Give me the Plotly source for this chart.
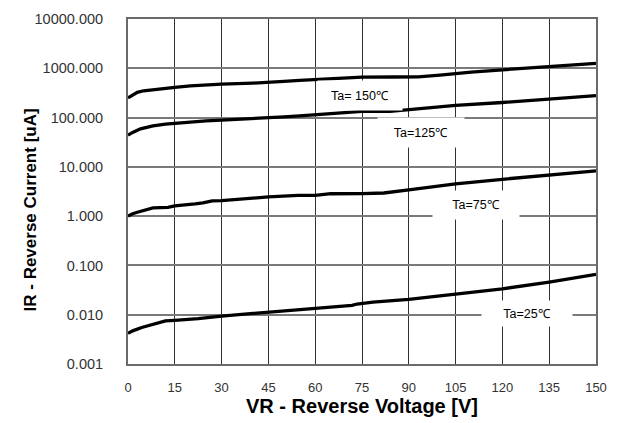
import math
import plotly.graph_objects as go

# ---- data ----
v150 = [0, 1.5, 3, 5, 8, 12, 15, 20, 25, 30, 40, 45, 50, 55, 60, 65, 70, 75, 85, 93, 100, 105, 110, 120, 135, 150]
i150 = [250, 290, 325, 350, 370, 395, 410, 440, 460, 475, 500, 515, 540, 570, 595, 625, 650, 660, 665, 670, 730, 790, 840, 930, 1080, 1260]

v125 = [0, 1.5, 4, 8, 12, 15, 20, 25, 30, 40, 45, 50, 55, 60, 65, 70, 75, 84, 90, 100, 105, 120, 135, 150]
i125 = [44, 50, 59, 68, 74, 77, 82, 86, 89, 94, 98, 103, 108, 114, 122, 128, 133, 133, 145, 165, 176, 202, 237, 280]

v75 = [0, 1.5, 3, 6, 8, 12.8, 15, 21.5, 24, 27, 30, 45, 54.5, 60, 65, 75, 82, 90, 105, 120, 135, 150]
i75 = [1.0, 1.12, 1.2, 1.35, 1.47, 1.51, 1.62, 1.77, 1.85, 2.05, 2.07, 2.45, 2.65, 2.65, 2.85, 2.87, 2.95, 3.4, 4.5, 5.6, 6.9, 8.3]

v25 = [0, 1.5, 4.4, 8.7, 12, 15, 22.5, 30, 45, 60, 71.8, 73.4, 78.5, 90, 105, 120, 135, 150]
i25 = [0.0042, 0.0047, 0.0055, 0.0067, 0.0075, 0.0077, 0.0083, 0.0094, 0.0113, 0.0138, 0.0155, 0.0165, 0.018, 0.0205, 0.026, 0.0335, 0.046, 0.066]

x_ticks = [0, 15, 30, 45, 60, 75, 90, 105, 120, 135, 150]
y_ticks = [0.001, 0.01, 0.1, 1, 10, 100, 1000, 10000]
y_tick_labels = ["0.001", "0.010", "0.100", "1.000", "10.000", "100.000", "1000.000", "10000.000"]

labels = ["Ta= 150℃", "Ta=125℃", "Ta=75℃", "Ta=25℃"]
label_x = [74.5, 94, 111.5, 128]
label_y = [280, 50, 1.7, 0.0104]

x_title = "VR - Reverse Voltage [V]"
y_title = "IR - Reverse Current [uA]"

FONT = "Liberation Sans, Arial, sans-serif"

fig = go.Figure()
for vx, iy in [(v150, i150), (v125, i125), (v75, i75), (v25, i25)]:
    fig.add_trace(go.Scatter(x=vx, y=iy, mode="lines",
                             line=dict(color="black", width=3.3),
                             showlegend=False, hoverinfo="skip"))

box_w = [72, 74, 74, 78]
box_h = [17, 17, 16, 13]
for t, lx, ly, bw, bh in zip(labels, label_x, label_y, box_w, box_h):
    fig.add_annotation(x=lx, y=math.log10(ly), yref="y", xref="x", text=t, showarrow=False,
                       font=dict(family=FONT, size=12.5, color="black"),
                       bgcolor="white", borderpad=6, width=bw, height=bh)

# y-axis title placed as a rotated annotation (sits partly beside the wide tick labels)
fig.add_annotation(xref="paper", yref="paper", x=-98 / 468, y=0.445, xanchor="center", yanchor="middle",
                   text="<b>" + y_title + "</b>", textangle=-90, showarrow=False,
                   font=dict(family=FONT, size=17, color="black"))

fig.update_xaxes(range=[0, 150], tickvals=x_ticks, ticktext=[str(v) for v in x_ticks],
                 showgrid=True, gridcolor="#303030", gridwidth=1,
                 showline=True, linecolor="#6a6a6a", linewidth=2, mirror=True,
                 ticks="", ticklabelstandoff=10, zeroline=False,
                 tickfont=dict(family=FONT, size=13, color="#333"),
                 title=dict(text="<b>" + x_title + "</b>",
                            font=dict(family=FONT, size=20, color="black"), standoff=0))
fig.update_yaxes(type="log", range=[-3, 4], tickvals=y_ticks, ticktext=y_tick_labels,
                 showgrid=True, gridcolor="#7a7a7a", gridwidth=1.5,
                 showline=True, linecolor="#6a6a6a", linewidth=2, mirror=True,
                 ticks="", ticklabelstandoff=20, zeroline=False,
                 tickfont=dict(family=FONT, size=14.5, color="#333"))

fig.update_layout(width=619, height=423,
                  margin=dict(l=128, r=23, t=19, b=59, autoexpand=False),
                  paper_bgcolor="white", plot_bgcolor="white")

fig.write_html("out.html", config={"displayModeBar": False},
               post_script="document.body.style.margin='0px';")
